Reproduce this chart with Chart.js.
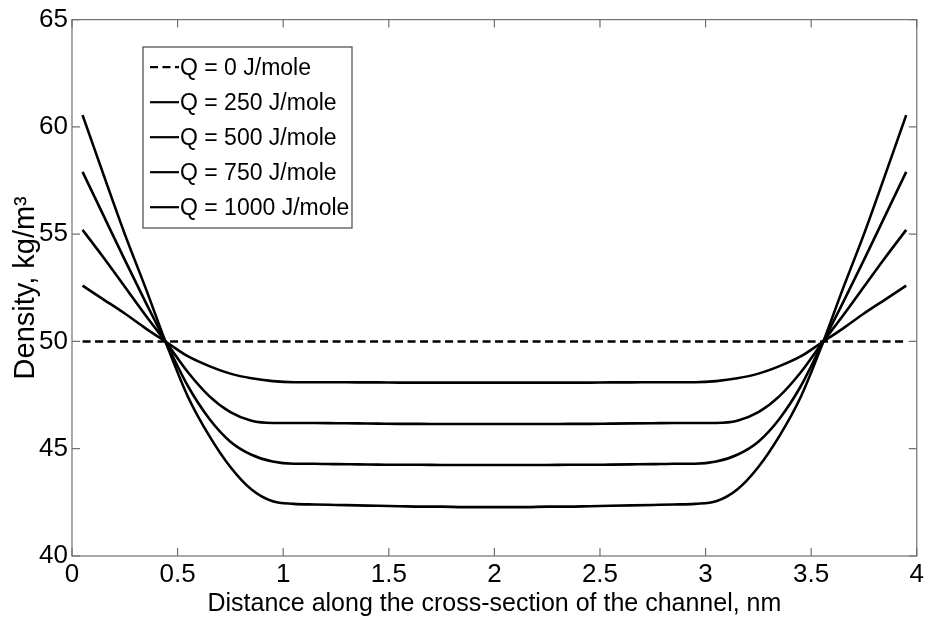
<!DOCTYPE html>
<html>
<head>
<meta charset="utf-8">
<script src="https://cdn.jsdelivr.net/npm/chart.js@4/dist/chart.umd.min.js"></script>
<style>
  html, body { margin: 0; padding: 0; background: #fff; }
  #wrap { width: 927px; height: 625px; }
  canvas { display: block; }
</style>
</head>
<body>
<div id="wrap"><canvas id="c" width="927" height="625"></canvas></div>
<script>
// ---- data ----
const xValues = [0.05, 0.15, 0.25, 0.35, 0.45, 0.55, 0.65, 0.75, 0.85, 0.95,
                 1.05, 1.15, 1.25, 1.35, 1.45, 1.55, 1.65, 1.75, 1.85, 1.95,
                 2.05, 2.15, 2.25, 2.35, 2.45, 2.55, 2.65, 2.75, 2.85, 2.95,
                 3.05, 3.15, 3.25, 3.35, 3.45, 3.55, 3.65, 3.75, 3.85, 3.95];

const seriesLabels = ['Q = 0 J/mole', 'Q = 250 J/mole', 'Q = 500 J/mole', 'Q = 750 J/mole', 'Q = 1000 J/mole'];

const q0 = [50, 50, 50, 50, 50, 50, 50, 50, 50, 50,
            50, 50, 50, 50, 50, 50, 50, 50, 50, 50,
            50, 50, 50, 50, 50, 50, 50, 50, 50, 50,
            50, 50, 50, 50, 50, 50, 50, 50, 50, 50];

const q250 = [52.6, 51.95, 51.3, 50.6, 49.95, 49.3, 48.85, 48.5, 48.28, 48.15,
              48.1, 48.1, 48.1, 48.09, 48.09, 48.08, 48.08, 48.08, 48.08, 48.08,
              48.08, 48.08, 48.08, 48.08, 48.08, 48.09, 48.09, 48.1, 48.1, 48.1,
              48.15, 48.28, 48.5, 48.85, 49.3, 49.95, 50.6, 51.3, 51.95, 52.6];

const q500 = [55.2, 53.9, 52.55, 51.2, 49.9, 48.55, 47.45, 46.7, 46.3, 46.2,
              46.2, 46.2, 46.19, 46.18, 46.17, 46.16, 46.16, 46.15, 46.15, 46.15,
              46.15, 46.15, 46.15, 46.16, 46.16, 46.17, 46.18, 46.19, 46.2, 46.2,
              46.2, 46.3, 46.7, 47.45, 48.55, 49.9, 51.2, 52.55, 53.9, 55.2];

const q750 = [57.9, 55.85, 53.8, 51.8, 49.85, 47.9, 46.4, 45.33, 44.72, 44.4,
              44.3, 44.3, 44.28, 44.27, 44.26, 44.25, 44.25, 44.24, 44.24, 44.24,
              44.24, 44.24, 44.24, 44.25, 44.25, 44.26, 44.27, 44.28, 44.3, 44.3,
              44.4, 44.72, 45.33, 46.4, 47.9, 49.85, 51.8, 53.8, 55.85, 57.9];

const q1000 = [60.55, 57.75, 55.0, 52.45, 49.8, 47.4, 45.6, 44.15, 43.1, 42.55,
               42.43, 42.4, 42.38, 42.36, 42.34, 42.32, 42.3, 42.3, 42.28, 42.28,
               42.28, 42.28, 42.3, 42.3, 42.32, 42.34, 42.36, 42.38, 42.4, 42.43,
               42.55, 43.1, 44.15, 45.6, 47.4, 49.8, 52.45, 55.0, 57.75, 60.55];

const xTickLabels = ['0', '0.5', '1', '1.5', '2', '2.5', '3', '3.5', '4'];
const yTickLabels = ['40', '45', '50', '55', '60', '65'];

const xTitle = 'Distance along the cross-section of the channel, nm';
const yTitle = 'Density, kg/m\u00B3';

// ---- styling ----
const regular = "'Liberation Sans', Arial, sans-serif";
const axisColor = '#707070';

const frameAndTicks = {
  id: 'frameAndTicks',
  afterDatasetsDraw(chart) {
    const {ctx, chartArea: a, scales} = chart;
    ctx.save();
    ctx.strokeStyle = axisColor;
    ctx.lineWidth = 1.2;
    ctx.setLineDash([]);
    ctx.strokeRect(a.left, a.top, a.right - a.left, a.bottom - a.top);
    const tl = 8;
    ctx.beginPath();
    scales.x.ticks.forEach(t => {
      const px = scales.x.getPixelForValue(t.value);
      ctx.moveTo(px, a.bottom); ctx.lineTo(px, a.bottom - tl);
      ctx.moveTo(px, a.top); ctx.lineTo(px, a.top + tl);
    });
    scales.y.ticks.forEach(t => {
      const py = scales.y.getPixelForValue(t.value);
      ctx.moveTo(a.left, py); ctx.lineTo(a.left + tl, py);
      ctx.moveTo(a.right, py); ctx.lineTo(a.right - tl, py);
    });
    ctx.stroke();
    ctx.restore();
  }
};

const innerLegend = {
  id: 'innerLegend',
  afterDraw(chart) {
    const {ctx} = chart;
    const bx = 143, by = 47, bw = 209, bh = 181;
    ctx.save();
    ctx.fillStyle = '#fff';
    ctx.fillRect(bx, by, bw, bh);
    ctx.strokeStyle = '#555';
    ctx.lineWidth = 1.3;
    ctx.setLineDash([]);
    ctx.strokeRect(bx, by, bw, bh);
    ctx.font = '23px ' + regular;
    ctx.textBaseline = 'middle';
    ctx.textAlign = 'left';
    chart.data.datasets.forEach((ds, i) => {
      const cy = 68.7 + i * 35;
      ctx.beginPath();
      ctx.strokeStyle = '#000';
      ctx.lineWidth = 2.2;
      ctx.setLineDash(ds.borderDash || []);
      ctx.moveTo(150, cy - 1.5);
      ctx.lineTo(179, cy - 1.5);
      ctx.stroke();
      ctx.setLineDash([]);
      ctx.fillStyle = '#000';
      ctx.fillText(ds.label, 180, cy);
    });
    ctx.restore();
  }
};

const mk = (label, data, dash) => ({
  label, data,
  borderColor: '#000',
  backgroundColor: '#000',
  borderWidth: 2.6,
  borderDash: dash,
  pointRadius: 0,
  cubicInterpolationMode: 'monotone',
  fill: false
});

new Chart(document.getElementById('c'), {
  type: 'line',
  data: {
    labels: xValues,
    datasets: [
      mk(seriesLabels[0], q0, [8, 4.5]),
      mk(seriesLabels[1], q250, []),
      mk(seriesLabels[2], q500, []),
      mk(seriesLabels[3], q750, []),
      mk(seriesLabels[4], q1000, [])
    ]
  },
  options: {
    responsive: false,
    animation: false,
    devicePixelRatio: 1,
    layout: { padding: { left: 0, right: 7, top: 17, bottom: 0 } },
    plugins: {
      legend: { display: false },
      tooltip: { enabled: false }
    },
    scales: {
      x: {
        type: 'linear',
        min: 0, max: 4,
        grid: { display: false, drawTicks: false },
        border: { display: false },
        ticks: {
          stepSize: 0.5,
          padding: 3,
          color: '#000',
          maxRotation: 0,
          autoSkip: false,
          font: { family: regular, size: 26, lineHeight: 1.2 },
          callback: (v, i) => xTickLabels[i]
        },
        title: {
          display: true,
          text: xTitle,
          color: '#000',
          font: { family: regular, size: 25, lineHeight: 1.2 },
          padding: { top: 0, bottom: 6 }
        },
        afterFit: s => { s.height = 69; }
      },
      y: {
        min: 40, max: 65,
        grid: { display: false, drawTicks: false },
        border: { display: false },
        ticks: {
          stepSize: 5,
          padding: 4,
          color: '#000',
          font: { family: regular, size: 26, lineHeight: 1.2 },
          callback: (v, i) => yTickLabels[i]
        },
        title: {
          display: true,
          text: yTitle,
          color: '#000',
          font: { family: regular, size: 29, lineHeight: 1.2 },
          padding: { top: 9, bottom: 0 }
        },
        afterFit: s => { s.width = 72; }
      }
    }
  },
  plugins: [frameAndTicks, innerLegend]
});
</script>
</body>
</html>
